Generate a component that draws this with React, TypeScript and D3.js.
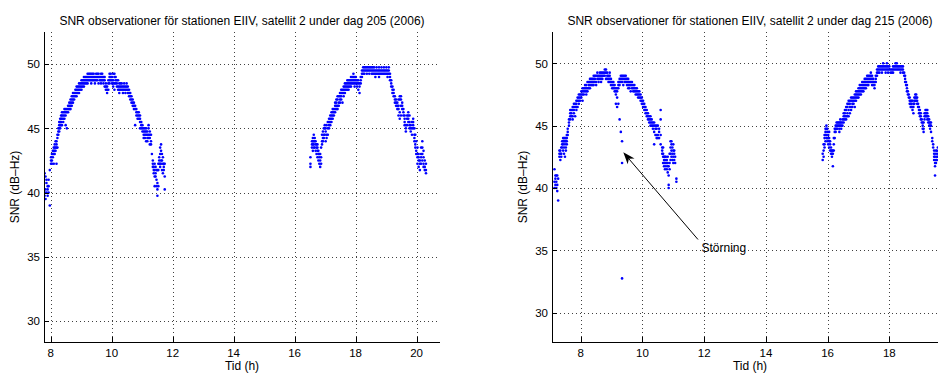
import React from 'react';
import * as d3 from 'd3';

type Col = [number, number[]];

// ---- Texts / ticks ----
const xTicks = [8, 10, 12, 14, 16, 18, 20];
const yTicks = [30, 35, 40, 45, 50];
const titleLeft = 'SNR observationer för stationen EIIV, satellit 2 under dag 205 (2006)';
const titleRight = 'SNR observationer för stationen EIIV, satellit 2 under dag 215 (2006)';
const xLabel = 'Tid (h)';
const yLabel = 'SNR (dB–Hz)';
const annotationText = 'Störning';
const arrowTail: [number, number] = [11.8, 35.87];
const arrowTip: [number, number] = [9.38, 42.86];

// axis limits
const leftXDomain: [number, number] = [7.78, 20.77];
const leftYDomain: [number, number] = [28.37, 52.5];
const rightXDomain: [number, number] = [7.07, 19.9];
const rightYDomain: [number, number] = [27.65, 52.51];

// ---- Day 205, pass 1 ----
const day205PassA: Col[] = [
  [7.80, [39.75, 40.0, 41.5]], [7.83, [39.5, 40.25, 41.25]], [7.86, [40.0, 40.75, 41.0]],
  [7.90, [39.75, 40.25, 40.5]], [7.93, [40.0, 40.5, 41.0]], [7.97, [39.0, 41.75]],
  [8.01, [42.25, 42.5, 42.75]], [8.04, [42.5, 43.0, 42.25]], [8.07, [42.75, 43.0, 43.25]],
  [8.10, [43.0, 43.25, 42.25, 43.5]], [8.13, [43.0, 43.25, 43.5, 43.75]], [8.16, [43.25, 43.5, 44.0]],
  [8.19, [43.5, 43.75, 44.0, 42.25]], [8.22, [43.5, 44.25, 44.5]], [8.25, [44.5, 44.75, 45.0]],
  [8.28, [44.75, 45.0, 45.25, 45.5]], [8.31, [45.0, 45.25, 45.5, 45.75]], [8.34, [45.25, 45.5, 45.75, 46.0]],
  [8.37, [45.25, 45.75, 46.0, 46.25]], [8.41, [45.5, 45.75, 46.0, 46.25]], [8.45, [45.75, 46.0, 46.25, 46.5]],
  [8.49, [45.25, 46.0, 46.25, 46.5]], [8.53, [45.0, 46.25, 46.5]], [8.57, [46.25, 46.5, 46.75]],
  [8.61, [46.5, 46.75, 47.0]], [8.65, [46.5, 46.75, 47.0, 47.25]], [8.69, [46.75, 47.0, 47.25, 47.5]],
  [8.73, [47.0, 47.25, 47.5, 47.75]], [8.77, [47.25, 47.5, 47.75]], [8.81, [47.5, 47.75, 48.0]],
  [8.85, [47.5, 47.75, 48.0, 48.25]], [8.89, [47.75, 48.0, 48.25]], [8.93, [47.75, 48.0, 48.25, 48.5]],
  [8.97, [48.0, 48.25, 48.5]], [9.01, [48.0, 48.25, 48.5, 48.75]], [9.05, [48.25, 48.5, 48.75]],
  [9.09, [48.25, 48.5, 48.75, 49.0]], [9.13, [48.5, 48.75, 49.0]], [9.17, [48.5, 48.75, 49.0]],
  [9.21, [48.5, 48.75, 49.0, 49.25]], [9.25, [48.75, 49.0, 49.25]], [9.29, [48.75, 49.0, 49.25]],
  [9.33, [48.5, 48.75, 49.0, 49.25]], [9.37, [48.75, 49.0, 49.25]], [9.41, [48.75, 49.0, 49.25]],
  [9.45, [48.5, 48.75, 49.0]], [9.49, [48.75, 49.0, 49.25]], [9.53, [48.75, 49.0, 49.25]],
  [9.57, [48.5, 49.0, 49.25]], [9.61, [48.75, 49.0]], [9.65, [48.5, 48.75, 49.0, 49.25]],
  [9.69, [48.75, 49.0, 49.25]], [9.73, [48.5, 48.75, 49.0]], [9.77, [48.25, 48.75, 49.0]],
  [9.81, [48.0, 48.25, 48.5]], [9.85, [47.75, 48.0, 48.25]], [9.89, [48.0, 48.5, 48.75]],
  [9.93, [48.5, 48.75, 49.0, 49.25]], [9.97, [48.75, 49.0, 49.25]], [10.01, [48.5, 48.75, 49.0]],
  [10.05, [48.25, 48.5, 48.75, 49.25]], [10.09, [48.0, 48.5, 49.0, 49.25]], [10.13, [48.5, 48.75, 49.0]],
  [10.17, [48.25, 48.5, 48.75]], [10.21, [48.0, 48.25, 48.75]], [10.25, [47.75, 48.0, 48.25, 48.5]],
  [10.29, [48.0, 48.25, 48.5]], [10.33, [48.0, 48.25, 48.5]], [10.37, [47.75, 48.0, 48.25]],
  [10.41, [48.0, 48.25, 48.5]], [10.45, [47.75, 48.0, 48.25]], [10.49, [48.0, 48.25, 48.5]],
  [10.53, [47.75, 48.0, 48.25]], [10.57, [47.5, 47.75, 48.0]], [10.61, [47.25, 47.5, 47.75]],
  [10.65, [47.0, 47.25, 47.5]], [10.69, [46.75, 47.0, 47.25]], [10.73, [46.5, 46.75, 47.0]],
  [10.77, [45.25, 46.5, 46.75]], [10.81, [46.0, 46.25, 46.5]], [10.85, [45.75, 46.0, 46.25]],
  [10.89, [45.75, 46.0, 46.25]], [10.93, [45.5, 45.75, 46.0, 45.0]], [10.97, [45.0, 45.25, 45.5]],
  [11.01, [44.75, 45.0, 45.25]], [11.05, [44.5, 44.75, 45.0, 44.25]], [11.09, [44.25, 44.5, 44.75, 45.0]],
  [11.13, [44.0, 44.5, 44.75, 45.0]], [11.17, [44.0, 44.25, 44.5, 44.75]], [11.21, [44.25, 44.5, 45.0, 45.25]],
  [11.25, [43.75, 44.25, 44.5, 44.75]], [11.29, [43.75, 44.0, 44.5]], [11.32, [43.0]],
  [11.35, [42.0, 42.25, 42.5]], [11.38, [41.5, 41.75, 42.0]], [11.41, [41.25, 41.75, 42.25, 40.5]],
  [11.44, [41.25, 41.5, 42.0]], [11.47, [40.5, 41.0, 41.75]], [11.50, [39.75, 40.25, 40.75, 41.75]],
  [11.53, [40.5, 41.75, 42.25]], [11.56, [42.25, 42.5, 42.75]], [11.59, [42.0, 42.25, 43.0, 43.5]],
  [11.62, [42.25, 42.5, 43.25, 43.75]], [11.65, [41.75, 42.5, 43.0]], [11.68, [41.5, 42.25, 42.75]],
  [11.71, [41.75, 42.0, 42.25]], [11.74, [40.25, 41.25, 42.25]],
];

// ---- Day 205, pass 2 ----
const day205PassB: Col[] = [
  [16.52, [42.0, 42.25, 42.75]], [16.57, [43.5, 43.75, 44.0]], [16.60, [43.25, 43.75, 44.0, 44.25]],
  [16.63, [43.5, 43.75, 44.0, 44.5]], [16.66, [43.5, 44.0, 44.25]], [16.69, [43.25, 43.75, 44.0]],
  [16.72, [43.0, 43.5, 43.75]], [16.75, [42.75, 43.25, 43.5, 43.75]], [16.78, [42.5, 43.0, 43.25]],
  [16.81, [42.25, 42.75, 43.0]], [16.84, [42.0, 42.5, 43.0]], [16.87, [42.25, 42.75, 43.5]],
  [16.90, [43.75, 44.0, 44.5]], [16.93, [44.0, 44.25, 44.75]], [16.96, [44.25, 44.5, 45.0]],
  [16.99, [44.5, 45.0, 45.25]], [17.02, [44.0, 44.75, 45.0]], [17.05, [44.25, 44.5, 45.25]],
  [17.09, [44.5, 45.0, 45.5]], [17.13, [45.0, 45.25, 45.5, 45.75]], [17.17, [45.25, 45.5, 45.75, 46.0]],
  [17.21, [45.5, 45.75, 46.0, 46.25]], [17.25, [45.75, 46.0, 46.25, 46.5]], [17.29, [46.0, 46.25, 46.5]],
  [17.33, [46.25, 46.5, 46.75, 47.0]], [17.37, [46.5, 46.75, 47.0, 47.25]], [17.41, [46.5, 46.75, 47.25, 47.5]],
  [17.45, [46.75, 47.0, 47.5]], [17.49, [47.0, 47.25, 47.5, 47.75]], [17.53, [47.25, 47.5, 47.75, 48.0]],
  [17.57, [47.0, 47.75, 48.0]], [17.61, [47.5, 47.75, 48.0, 48.25]], [17.65, [47.75, 48.0, 48.25, 48.5]],
  [17.69, [48.0, 48.25, 48.5]], [17.73, [48.0, 48.25, 48.5, 48.75]], [17.77, [48.0, 48.25, 48.5, 48.75]],
  [17.81, [48.25, 48.5, 48.75]], [17.85, [48.25, 48.5, 48.75, 49.0]], [17.89, [48.5, 48.75, 49.0]],
  [17.93, [48.5, 48.75, 49.0, 49.25]], [17.97, [48.25, 48.5, 48.75, 49.0]], [18.01, [48.5, 48.75, 49.0]],
  [18.05, [48.25, 48.5, 48.75]], [18.09, [48.0, 48.5, 48.75]], [18.13, [47.75, 48.25, 48.5]],
  [18.17, [48.5, 48.75, 49.0]], [18.21, [49.0, 49.25, 49.5]], [18.25, [49.25, 49.5, 49.75]],
  [18.29, [49.25, 49.5, 49.75]], [18.33, [49.5, 49.75]], [18.37, [49.25, 49.5, 49.75]],
  [18.41, [49.5, 49.75]], [18.45, [49.25, 49.5, 49.75]], [18.49, [49.5, 49.75]],
  [18.53, [49.25, 49.5, 49.75]], [18.57, [49.25, 49.5, 49.75]], [18.61, [49.25, 49.5, 49.75]],
  [18.65, [49.0, 49.25, 49.5]], [18.69, [49.25, 49.5, 49.75]], [18.73, [49.25, 49.5]],
  [18.77, [49.0, 49.25, 49.5, 49.75]], [18.81, [49.25, 49.5]], [18.85, [49.25, 49.5, 49.75]],
  [18.89, [49.25, 49.5]], [18.93, [49.25, 49.5, 49.75]], [18.97, [49.25, 49.5]],
  [19.01, [49.25, 49.5, 49.75]], [19.05, [49.0, 49.25, 49.5]], [19.09, [49.25, 49.5, 49.75]],
  [19.13, [48.75, 49.0, 49.25]], [19.17, [48.25, 48.5, 48.75]], [19.21, [47.75, 48.0, 48.25]],
  [19.25, [47.5, 47.75, 48.0]], [19.29, [47.0, 47.25, 47.5]], [19.33, [46.75, 47.0, 47.25]],
  [19.37, [46.5, 46.75, 47.0]], [19.41, [46.0, 46.5, 46.75, 47.25]], [19.45, [45.75, 46.25, 47.25, 47.5]],
  [19.49, [46.0, 46.75, 47.25, 47.5]], [19.53, [46.5, 46.75, 47.0]], [19.57, [46.0, 46.25, 46.5]],
  [19.61, [45.25, 45.5, 45.75, 46.0]], [19.65, [44.75, 45.0, 45.25]], [19.69, [45.25, 45.75, 46.0]],
  [19.73, [45.5, 45.75, 46.0, 46.25]], [19.77, [45.0, 45.25, 45.5, 46.0]], [19.81, [44.75, 45.0, 45.25]],
  [19.85, [44.5, 45.0, 45.5]], [19.89, [45.0, 45.25, 45.5, 45.75]], [19.93, [44.0, 44.25, 44.5, 45.0]],
  [19.96, [43.5, 43.75, 44.5]], [19.99, [43.0, 43.25, 44.0]], [20.03, [42.75, 43.0, 43.5, 42.25]],
  [20.07, [42.0, 42.5, 42.75, 43.0]], [20.11, [41.75, 42.25, 42.5]], [20.15, [42.25, 42.75, 43.0, 43.5]],
  [20.19, [42.5, 43.0, 43.5, 44.0]], [20.23, [42.0, 42.25, 42.75, 43.25]], [20.27, [41.75, 42.0, 42.5]],
  [20.31, [41.5, 41.75, 42.25]],
];

// ---- Day 215, pass 1 ----
const day215PassA: Col[] = [
  [7.15, [40.0, 40.5, 41.5]], [7.18, [40.25, 41.0, 40.75]], [7.21, [40.0, 40.5, 41.0]],
  [7.24, [39.75, 40.25, 41.0]], [7.27, [39.0, 40.75]], [7.31, [42.5, 42.75, 43.0]],
  [7.34, [42.25, 42.75, 43.0]], [7.37, [42.5, 42.75, 43.25]], [7.40, [43.25, 43.5, 43.75]],
  [7.43, [43.0, 43.5, 43.75, 44.0]], [7.46, [42.75, 43.25, 43.75, 44.0]], [7.49, [42.5, 43.5, 43.75, 44.0]],
  [7.52, [43.0, 43.25, 43.75, 44.0]], [7.55, [43.5, 43.75, 44.0, 44.25]], [7.58, [44.25, 44.5, 44.75]],
  [7.62, [45.0, 45.25, 45.5]], [7.66, [45.5, 45.75, 46.0, 46.25]], [7.70, [45.75, 46.0, 46.25]],
  [7.74, [45.75, 46.25, 46.5, 45.5]], [7.78, [46.0, 46.25, 46.5, 46.75]], [7.82, [45.75, 46.5, 46.75]],
  [7.86, [46.25, 46.5, 46.75, 47.0]], [7.90, [46.5, 47.0, 47.25]], [7.94, [46.75, 47.0, 47.25, 47.5]],
  [7.98, [47.0, 47.25, 47.5]], [8.02, [47.25, 47.5, 47.75]], [8.06, [47.0, 47.5, 47.75, 48.0]],
  [8.10, [47.5, 47.75, 48.0]], [8.14, [47.75, 48.0, 48.25]], [8.18, [47.5, 47.75, 48.0, 48.25]],
  [8.22, [47.75, 48.0, 48.5]], [8.26, [48.0, 48.25, 48.5]], [8.30, [48.0, 48.25, 48.5, 48.75]],
  [8.34, [48.25, 48.5, 48.75]], [8.38, [48.25, 48.5, 48.75]], [8.42, [48.25, 48.5, 48.75, 49.0]],
  [8.46, [48.5, 48.75, 49.0]], [8.50, [48.25, 48.5, 49.0]], [8.54, [48.75, 49.0, 49.25]],
  [8.58, [48.5, 48.75, 49.0]], [8.62, [48.75, 49.0, 49.25]], [8.66, [48.5, 48.75, 49.0, 49.25]],
  [8.70, [48.75, 49.0, 49.25]], [8.74, [49.0, 49.25]], [8.78, [49.0, 49.25, 49.5]],
  [8.82, [48.75, 49.25, 49.5]], [8.86, [48.75, 49.0, 49.25]], [8.90, [48.5, 48.75, 49.0]],
  [8.94, [48.5, 48.75, 49.0, 49.25]], [8.98, [48.25, 48.5, 48.75]], [9.02, [48.0, 48.25, 48.5]],
  [9.06, [48.0, 48.25, 48.5]], [9.10, [47.75, 48.0, 48.25]], [9.14, [47.5, 47.75, 48.0, 46.75]],
  [9.18, [47.25, 47.75, 48.0, 46.5]], [9.22, [48.0, 48.25, 48.5, 46.75]], [9.26, [48.25, 48.5, 48.75, 45.5]],
  [9.30, [48.5, 48.75, 49.0, 44.5]], [9.34, [48.5, 48.75, 49.0, 43.75, 42.0, 32.75]], [9.38, [48.25, 48.75, 49.0]],
  [9.42, [48.5, 48.75, 49.0]], [9.46, [48.5, 48.75, 49.0]], [9.50, [48.25, 48.5, 48.75]],
  [9.54, [48.0, 48.25, 48.5, 48.75]], [9.58, [48.0, 48.25, 48.5]], [9.62, [47.75, 48.25, 48.5]],
  [9.66, [48.0, 48.25, 48.5]], [9.70, [47.75, 48.0, 48.25]], [9.74, [47.75, 48.0, 48.25]],
  [9.78, [47.5, 47.75, 48.0]], [9.82, [47.5, 47.75, 48.0]], [9.86, [47.25, 47.5, 47.75]],
  [9.90, [47.25, 47.5, 47.75]], [9.94, [47.0, 47.25, 47.5]], [9.98, [46.75, 47.0, 47.25]],
  [10.02, [46.5, 46.75, 47.0]], [10.06, [46.25, 46.5, 46.75]], [10.10, [46.0, 46.25, 46.5]],
  [10.14, [45.75, 46.0, 46.25]], [10.18, [45.5, 45.75, 46.0]], [10.22, [45.25, 45.5, 45.75]],
  [10.26, [45.0, 45.25, 45.5, 45.75]], [10.30, [45.0, 45.25, 45.5]], [10.34, [44.75, 45.0, 45.25]],
  [10.38, [43.5, 44.5, 45.0, 45.25]], [10.42, [44.25, 44.75, 45.0]], [10.46, [44.0, 44.25, 44.75, 45.0]],
  [10.50, [44.0, 44.25, 45.0]], [10.54, [44.0, 44.5, 44.75]], [10.59, [43.5, 44.25, 45.5, 46.25]],
  [10.64, [42.75, 43.0, 43.25]], [10.67, [42.0, 42.5, 42.75, 43.25]], [10.70, [41.75, 42.0, 42.25, 42.5]],
  [10.73, [41.5, 42.0, 42.25, 42.5]], [10.76, [41.75, 42.0, 42.5]], [10.79, [41.5, 42.0, 42.25]],
  [10.82, [41.25, 41.75, 42.0, 42.5]], [10.85, [40.0, 40.25, 41.0, 41.75]], [10.88, [41.5, 42.0, 42.75]],
  [10.91, [42.25, 42.75, 43.25, 43.75]], [10.94, [42.5, 43.0, 43.5, 43.75]], [10.97, [42.25, 42.75, 43.25]],
  [11.00, [42.0, 42.5, 43.0, 43.5]], [11.03, [42.25, 42.75, 43.0]], [11.06, [42.0, 42.5]],
  [11.10, [40.5, 40.75]],
];

// ---- Day 215, pass 2 ----
const day215PassB: Col[] = [
  [15.84, [42.25, 42.75]], [15.87, [42.5, 43.0, 43.5]], [15.90, [43.5, 44.0, 44.25, 43.25]],
  [15.93, [43.75, 44.25, 44.5, 44.75]], [15.96, [44.0, 44.25, 44.75, 45.0]], [15.99, [43.75, 44.0, 44.5, 44.75]],
  [16.02, [43.5, 44.0, 44.25]], [16.05, [43.25, 43.75, 44.0, 44.5]], [16.08, [43.0, 43.5, 43.75]],
  [16.11, [42.75, 43.0, 43.25]], [16.14, [42.5, 42.75, 43.0]], [16.17, [41.75, 42.75, 43.0]],
  [16.20, [43.0, 43.5, 44.0]], [16.23, [44.0, 44.5, 44.75]], [16.26, [44.5, 44.75, 45.0]],
  [16.29, [44.75, 45.0, 45.25]], [16.32, [44.75, 45.0, 45.25]], [16.35, [45.0, 45.25]],
  [16.38, [44.5, 44.75, 45.0, 45.25]], [16.41, [45.0, 45.25, 45.5]], [16.44, [44.75, 45.0, 45.25]],
  [16.48, [45.0, 45.25, 45.5]], [16.52, [45.25, 45.5, 45.75, 46.0]], [16.56, [45.5, 45.75, 46.0, 46.25]],
  [16.60, [45.5, 45.75, 46.25, 46.5]], [16.64, [45.75, 46.0, 46.5, 46.75]], [16.68, [45.75, 46.25, 46.75, 47.0]],
  [16.72, [46.0, 46.5, 46.75, 47.0]], [16.76, [46.25, 46.5, 47.0, 47.25]], [16.80, [46.5, 46.75, 47.0, 47.25]],
  [16.84, [46.75, 47.0, 47.25]], [16.88, [46.5, 47.0, 47.25, 47.5]], [16.92, [47.0, 47.25, 47.5, 47.75]],
  [16.96, [47.25, 47.5, 47.75]], [17.00, [47.25, 47.5, 47.75, 48.0]], [17.04, [47.5, 47.75, 48.0, 48.25]],
  [17.08, [47.5, 47.75, 48.0, 48.25]], [17.12, [47.75, 48.0, 48.25, 48.5]], [17.16, [47.75, 48.0, 48.25, 48.5]],
  [17.20, [48.0, 48.25, 48.5, 48.75]], [17.24, [48.0, 48.25, 48.5, 48.75]], [17.28, [48.25, 48.5, 48.75, 49.0]],
  [17.32, [48.25, 48.5, 48.75, 49.0]], [17.36, [48.5, 48.75, 49.0]], [17.40, [48.5, 48.75, 49.0, 49.25]],
  [17.44, [48.25, 48.5, 48.75, 49.0]], [17.48, [48.25, 48.5, 48.75]], [17.52, [48.0, 48.25, 48.5]],
  [17.56, [48.5, 48.75, 49.0]], [17.60, [49.0, 49.25, 49.5]], [17.64, [49.25, 49.5, 49.75]],
  [17.68, [49.25, 49.5, 49.75]], [17.72, [49.5, 49.75]], [17.76, [49.25, 49.5, 49.75]],
  [17.80, [49.5, 49.75, 50.0]], [17.84, [49.5, 49.75]], [17.88, [49.25, 49.5, 49.75]],
  [17.92, [49.5, 49.75, 50.0]], [17.96, [49.25, 49.5, 49.75]], [18.00, [49.5, 49.75]],
  [18.04, [49.25, 49.5]], [18.08, [49.25, 49.5]], [18.12, [49.25, 49.5, 49.75]],
  [18.16, [49.5, 49.75]], [18.20, [49.5, 49.75, 50.0]], [18.24, [49.5, 49.75, 50.0]],
  [18.28, [49.5, 49.75]], [18.32, [49.5, 49.75]], [18.36, [49.25, 49.5, 49.75]],
  [18.40, [49.5, 49.75]], [18.44, [49.25, 49.5, 49.75]], [18.48, [49.0, 49.25]],
  [18.51, [48.5, 48.75, 49.0]], [18.54, [48.25, 48.5]], [18.57, [47.75, 48.0, 48.25]],
  [18.60, [47.5, 47.75]], [18.63, [47.25, 47.5]], [18.66, [47.0, 47.25, 46.75]],
  [18.69, [46.75, 47.0, 46.5]], [18.72, [46.5, 46.75, 47.0]], [18.75, [46.25, 46.5, 47.0]],
  [18.78, [46.0, 46.5, 46.75]], [18.81, [46.75, 47.0, 47.25]], [18.84, [47.0, 47.25, 47.5]],
  [18.87, [47.0, 47.25, 47.5]], [18.90, [46.75, 47.0, 47.25]], [18.93, [46.5, 46.75]],
  [18.96, [46.0, 46.25, 46.5]], [18.99, [45.75, 46.0, 46.25]], [19.02, [45.5, 45.75, 46.0]],
  [19.05, [45.25, 45.5]], [19.08, [44.75, 45.0, 45.25]], [19.11, [44.5, 44.75, 45.25]],
  [19.14, [45.5, 45.75, 46.0]], [19.17, [45.75, 46.0, 46.25]], [19.20, [45.75, 46.0, 46.25]],
  [19.23, [45.5, 45.75, 46.0, 46.25]], [19.26, [45.25, 45.5, 45.75]], [19.29, [45.0, 45.25, 45.5]],
  [19.32, [44.75, 45.0, 45.25]], [19.35, [44.5, 45.0, 45.25]], [19.39, [43.75, 44.0]],
  [19.42, [43.25, 43.5]], [19.45, [42.25, 42.5, 42.75, 43.0]], [19.48, [41.75, 42.0, 42.5, 41.0]],
  [19.51, [42.0, 42.25, 42.75, 43.0]], [19.54, [42.25, 42.5, 43.0]], [19.57, [42.5, 42.75, 43.25]],
];

const FONT = '"Liberation Sans", Arial, Helvetica, sans-serif';

function flatten(passes: Col[][]): [number, number][] {
  const out: [number, number][] = [];
  passes.forEach((p) => p.forEach(([t, vals]) => vals.forEach((v) => out.push([t, v]))));
  return out;
}

type PanelProps = {
  left: number;
  width: number;
  top: number;
  height: number;
  xDomain: [number, number];
  yDomain: [number, number];
  passes: Col[][];
  title: string;
  annotate?: boolean;
  clipId: string;
};

function Panel({ left, width, top, height, xDomain, yDomain, passes, title, annotate, clipId }: PanelProps) {
  const x = d3.scaleLinear().domain(xDomain).range([left, left + width]);
  const y = d3.scaleLinear().domain(yDomain).range([top + height, top]);
  const pts = flatten(passes);
  const bottom = top + height;
  const tickLen = 5;

  let arrow: React.ReactNode = null;
  if (annotate) {
    const tx = x(arrowTip[0]);
    const ty = y(arrowTip[1]);
    const sx = x(arrowTail[0]);
    const sy = y(arrowTail[1]);
    const dx = tx - sx;
    const dy = ty - sy;
    const len = Math.hypot(dx, dy);
    const ux = dx / len;
    const uy = dy / len;
    const nx = -uy;
    const ny = ux;
    const L = 12;
    const W = 4.5;
    const notch = 3.5;
    const p1 = [tx, ty];
    const p2 = [tx - L * ux + W * nx, ty - L * uy + W * ny];
    const p3 = [tx - (L - notch) * ux, ty - (L - notch) * uy];
    const p4 = [tx - L * ux - W * nx, ty - L * uy - W * ny];
    arrow = (
      <g>
        <line x1={sx} y1={sy} x2={tx - (L - notch) * ux} y2={ty - (L - notch) * uy} stroke="#000" strokeWidth={1} />
        <polygon points={[p1, p2, p3, p4].map((p) => p.join(',')).join(' ')} fill="#000" />
        <text x={sx + 3.5} y={sy + 13} fontSize={12} fontFamily={FONT} fill="#000">{annotationText}</text>
      </g>
    );
  }

  return (
    <g>
      <defs>
        <clipPath id={clipId}>
          <rect x={left} y={top} width={width} height={height} />
        </clipPath>
      </defs>
      {/* grid */}
      <g stroke="#000" strokeOpacity={0.75} strokeWidth={1} strokeDasharray="1,3" shapeRendering="crispEdges">
        {yTicks.map((t) => (
          <line key={'gy' + t} x1={left} x2={left + width} y1={Math.round(y(t)) + 0.5} y2={Math.round(y(t)) + 0.5} />
        ))}
        {xTicks.filter((t) => x(t) <= left + width).map((t) => (
          <line key={'gx' + t} x1={Math.round(x(t)) + 0.5} x2={Math.round(x(t)) + 0.5} y1={top} y2={bottom} />
        ))}
      </g>
      {/* data */}
      <g clipPath={`url(#${clipId})`}>
        {pts.map(([t, v], i) => (
          <circle key={i} cx={x(t)} cy={y(v)} r={1.3} fill="#0000ff" />
        ))}
      </g>
      {/* axes */}
      <g stroke="#000" strokeWidth={1} shapeRendering="crispEdges">
        <line x1={left + 0.5} x2={left + 0.5} y1={top} y2={bottom} />
        <line x1={left} x2={left + width} y1={bottom + 0.5} y2={bottom + 0.5} />
        {yTicks.map((t) => (
          <line key={'ty' + t} x1={left} x2={left + tickLen} y1={Math.round(y(t)) + 0.5} y2={Math.round(y(t)) + 0.5} />
        ))}
        {xTicks.filter((t) => x(t) <= left + width).map((t) => (
          <line key={'tx' + t} x1={Math.round(x(t)) + 0.5} x2={Math.round(x(t)) + 0.5} y1={bottom} y2={bottom - tickLen} />
        ))}
      </g>
      {/* tick labels */}
      <g fontFamily={FONT} fontSize={11.5} fill="#000">
        {yTicks.map((t) => (
          <text key={'ly' + t} x={left - 4} y={y(t) + 4.3} textAnchor="end">{t}</text>
        ))}
        {xTicks.filter((t) => x(t) <= 938).map((t) => (
          <text key={'lx' + t} x={x(t)} y={bottom + 15.3} textAnchor="middle">{t}</text>
        ))}
      </g>
      <g fontFamily={FONT} fontSize={12} fill="#000">
        <text x={left + width / 2} y={bottom + 28} textAnchor="middle">{xLabel}</text>
        <text transform={`translate(${left - 25},${top + height / 2}) rotate(-90)`} textAnchor="middle">{yLabel}</text>
        <text x={left + width / 2} y={top - 7.5} textAnchor="middle">{title}</text>
      </g>
      {arrow}
    </g>
  );
}

export default function App() {
  return (
    <svg
      width={938}
      height={374}
      style={{ position: 'absolute', left: 0, top: 0, background: '#fff' }}
      xmlns="http://www.w3.org/2000/svg"
    >
      <rect x={0} y={0} width={938} height={374} fill="#fff" />
      <Panel
        left={44}
        width={396}
        top={32}
        height={310}
        xDomain={leftXDomain}
        yDomain={leftYDomain}
        passes={[day205PassA, day205PassB]}
        title={titleLeft}
        clipId="clipL"
      />
      <Panel
        left={552}
        width={396}
        top={32}
        height={310}
        xDomain={rightXDomain}
        yDomain={rightYDomain}
        passes={[day215PassA, day215PassB]}
        title={titleRight}
        annotate
        clipId="clipR"
      />
    </svg>
  );
}
